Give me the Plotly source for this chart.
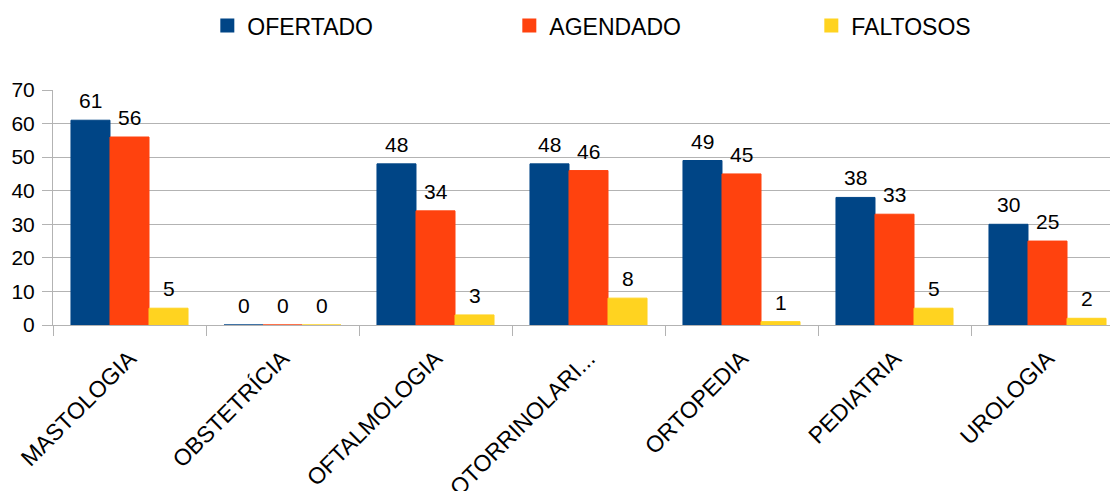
import plotly.graph_objects as go

categories = ["MASTOLOGIA", "OBSTETRÍCIA", "OFTALMOLOGIA", "OTORRINOLARI...",
              "ORTOPEDIA", "PEDIATRIA", "UROLOGIA"]
ofertado = [61, 0, 48, 48, 49, 38, 30]
agendado = [56, 0, 34, 46, 45, 33, 25]
faltosos = [5, 0, 3, 8, 1, 5, 2]

series = [("OFERTADO", ofertado, "#004586"),
          ("AGENDADO", agendado, "#ff420e"),
          ("FALTOSOS", faltosos, "#ffd320")]

FONT = "Liberation Sans"
fig = go.Figure()
for name, vals, col in series:
    fig.add_trace(go.Bar(
        x=categories, y=vals, name=name,
        marker=dict(color=col, line=dict(color=col, width=1)),
    ))

# data labels
bar_px = 39
for i, (name, vals, col) in enumerate(series):
    for c, v in zip(categories, vals):
        fig.add_annotation(
            x=c, y=v, text=str(v), showarrow=False,
            xshift=(i - 1) * bar_px, yanchor="bottom", yshift=6,
            font=dict(family=FONT, size=21, color="#000000"),
        )

fig.update_layout(
    width=1110, height=491,
    margin=dict(l=53, r=0, t=90, b=166, autoexpand=False),
    paper_bgcolor="white", plot_bgcolor="white",
    barmode="group", bargap=0.235, bargroupgap=0,
    font=dict(family=FONT, size=21, color="#000000"),
    showlegend=True,
    legend=dict(orientation="h", x=0.146, xanchor="left", y=1.274, yanchor="middle",
                entrywidth=257, entrywidthmode="pixels",
                font=dict(family=FONT, size=23, color="#000000"),
                itemsizing="constant"),
    xaxis=dict(
        type="category", range=[-0.5, -0.5 + 1057 / 153],
        showgrid=False, showline=True, linecolor="#b3b3b3", linewidth=1,
        ticks="outside", tickson="boundaries", ticklen=10, tickcolor="#b3b3b3",
        tickangle=-45, tickfont=dict(family=FONT, size=23, color="#000000"),
        ticklabelstandoff=10,
        automargin=False, zeroline=False,
    ),
    yaxis=dict(
        range=[0, 70], dtick=10, showgrid=True, gridcolor="#b3b3b3", gridwidth=1,
        showline=True, linecolor="#b3b3b3", linewidth=1,
        ticks="outside", ticklen=10, tickcolor="#b3b3b3",
        tickfont=dict(family=FONT, size=21, color="#000000"),
        ticklabelstandoff=3, automargin=False, zeroline=False,
    ),
)

fig.write_html("out.html", config={"displayModeBar": False},
               post_script="document.body.style.margin='0';")
